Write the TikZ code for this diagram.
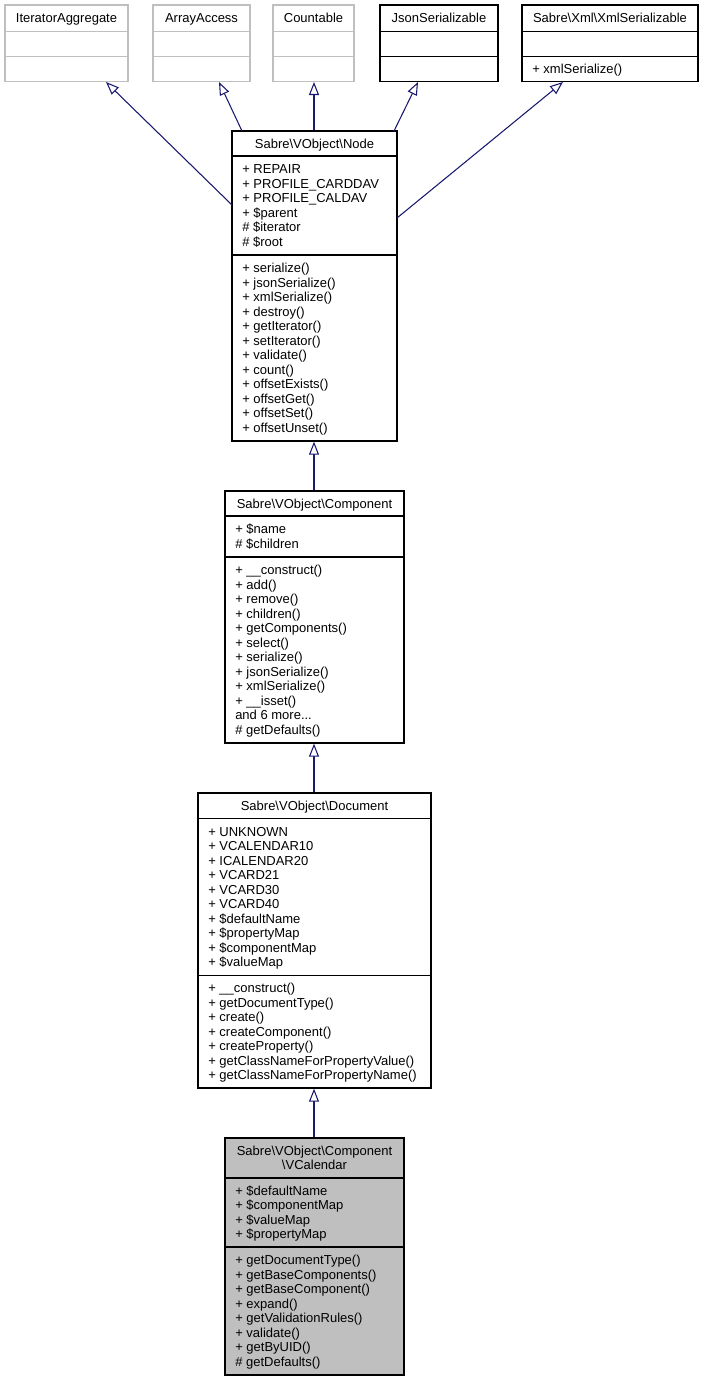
\documentclass[tikz,border=0pt]{standalone}
\usepackage{fontspec}
\setmainfont{Liberation Sans}
\usetikzlibrary{arrows.meta,fit}
\definecolor{edgecol}{HTML}{191970}
\definecolor{greyline}{HTML}{BFBFBF}
\definecolor{greyfill}{HTML}{BFBFBF}
\newcommand\umlfont{\fontsize{9.75}{10.875}\selectfont}
\newcommand\bsl{\textbackslash}
\newcommand\memberlist[4]{%
  \foreach \mm [count=\i from 0] in {#4}
    \node[txt] (#3-\i) at (#1, {#2+14.5*\i}) {\mm};}
\tikzset{
  box/.style={draw=black, line width=1pt, inner sep=0pt},
  gbox/.style={draw=greyline, line width=1pt, inner sep=0pt},
  sepl/.style={draw=black, line width=1pt},
  gsepl/.style={draw=greyline, line width=1pt},
  txt/.style={anchor=base west, inner sep=0pt, font=\umlfont},
  ttl/.style={anchor=base, inner sep=0pt, font=\umlfont},
  inh/.style={draw=edgecol, line width=0.8pt,
    -{Triangle[open, length=9.75pt, width=7.5pt, fill=white]}}
}
\begin{document}
\begin{tikzpicture}[x=0.75pt, y=-0.75pt]
\useasboundingbox (0,0) rectangle (705,1381);

% ---------- top row ----------
\node[gbox, fit={(5,5) (128,81.5)}] (ia) {};
\draw[gsepl] (5,31.5) -- (128,31.5) (5,56.5) -- (128,56.5);
\node[ttl] (ia-t) at (66.5,22.75) {IteratorAggregate};

\node[gbox, fit={(153,5) (250,81.5)}] (aa) {};
\draw[gsepl] (153,31.5) -- (250,31.5) (153,56.5) -- (250,56.5);
\node[ttl] (aa-t) at (201.5,22.75) {ArrayAccess};

\node[gbox, fit={(273,5) (354,81.5)}] (ct) {};
\draw[gsepl] (273,31.5) -- (354,31.5) (273,56.5) -- (354,56.5);
\node[ttl] (ct-t) at (313.5,22.75) {Countable};

\node[box, fit={(380,5) (498,81.5)}] (js) {};
\draw[sepl] (380,31.5) -- (498,31.5) (380,56.5) -- (498,56.5);
\node[ttl] (js-t) at (439,22.75) {JsonSerializable};

\node[box, fit={(522,5) (698,81.5)}] (xs) {};
\draw[sepl] (522,31.5) -- (698,31.5) (522,56.5) -- (698,56.5);
\node[ttl] (xs-t) at (610,22.75) {Sabre\bsl Xml\bsl XmlSerializable};
\node[txt] (xs-m0) at (532,73.5) {+ xmlSerialize()};

% ---------- Node ----------
\node[box, fit={(232,131) (397,441)}] (nb) {};
\draw[sepl] (232,156) -- (397,156) (232,255) -- (397,255);
\node[ttl] (nb-t) at (314.5,148) {Sabre\bsl VObject\bsl Node};
\memberlist{242}{173.75}{nba}{+ REPAIR,+ PROFILE\_CARDDAV,+ PROFILE\_CALDAV,+ \$parent,\# \$iterator,\# \$root}
\memberlist{242}{272.75}{nbm}{+ serialize(),+ jsonSerialize(),+ xmlSerialize(),+ destroy(),+ getIterator(),+ setIterator(),+ validate(),+ count(),+ offsetExists(),+ offsetGet(),+ offsetSet(),+ offsetUnset()}

% ---------- Component ----------
\node[box, fit={(225,491) (404,743)}] (cp) {};
\draw[sepl] (225,516) -- (404,516) (225,557) -- (404,557);
\node[ttl] (cp-t) at (314.5,508) {Sabre\bsl VObject\bsl Component};
\memberlist{235}{533.75}{cpa}{+ \$name,\# \$children}
\memberlist{235}{574.75}{cpm}{+ \_\_construct(),+ add(),+ remove(),+ children(),+ getComponents(),+ select(),+ serialize(),+ jsonSerialize(),+ xmlSerialize(),+ \_\_isset()}
\node[txt] (cpm-10) at (235,719.75) {and 6 more...};
\node[txt] (cpm-11) at (235,734.25) {\# getDefaults()};

% ---------- Document ----------
\node[box, fit={(198,793) (431,1088)}] (dc) {};
\draw[sepl] (198,818.3) -- (431,818.3) (198,975.7) -- (431,975.7);
\node[ttl] (dc-t) at (314.5,810.3) {Sabre\bsl VObject\bsl Document};
\memberlist{208}{836.25}{dca}{+ UNKNOWN,+ VCALENDAR10,+ ICALENDAR20,+ VCARD21,+ VCARD30,+ VCARD40,+ \$defaultName,+ \$propertyMap,+ \$componentMap,+ \$valueMap}
\memberlist{208}{992.7}{dcm}{+ \_\_construct(),+ getDocumentType(),+ create(),+ createComponent(),+ createProperty(),+ getClassNameForPropertyValue(),+ getClassNameForPropertyName()}

% ---------- VCalendar ----------
\node[box, fill=greyfill, fit={(225,1138) (404,1375)}] (vc) {};
\draw[sepl] (225,1178) -- (404,1178) (225,1247) -- (404,1247);
\node[ttl] (vc-t1) at (314.5,1155.25) {Sabre\bsl VObject\bsl Component};
\node[ttl] (vc-t2) at (314.5,1169.75) {\bsl VCalendar};
\memberlist{235}{1195.25}{vca}{+ \$defaultName,+ \$componentMap,+ \$valueMap,+ \$propertyMap}
\memberlist{235}{1264.75}{vcm}{+ getDocumentType(),+ getBaseComponents(),+ getBaseComponent(),+ expand(),+ getValidationRules(),+ validate(),+ getByUID(),\# getDefaults()}

% ---------- connector end points ----------
\coordinate (nb-ia) at (232,205);
\coordinate (ia-tip) at (106,82);
\coordinate (nb-aa) at (242,131);
\coordinate (aa-tip) at (219,82);
\coordinate (ct-tip) at (314,82);
\coordinate (nb-js) at (394,131);
\coordinate (js-tip) at (418,82);
\coordinate (nb-xs) at (397,218);
\coordinate (xs-tip) at (563,82);

% ---------- inheritance connectors ----------
\draw[inh] (nb-ia) -- (ia-tip);
\draw[inh] (nb-aa) -- (aa-tip);
\draw[inh] (nb.north -| ct-tip) -- (ct-tip);
\draw[inh] (nb-js) -- (js-tip);
\draw[inh] (nb-xs) -- (xs-tip);
\draw[inh] (cp.north -| 314,0) -- (nb.south -| 314,0);
\draw[inh] (dc.north -| 314,0) -- (cp.south -| 314,0);
\draw[inh] (vc.north -| 314,0) -- (dc.south -| 314,0);
\end{tikzpicture}
\end{document}
